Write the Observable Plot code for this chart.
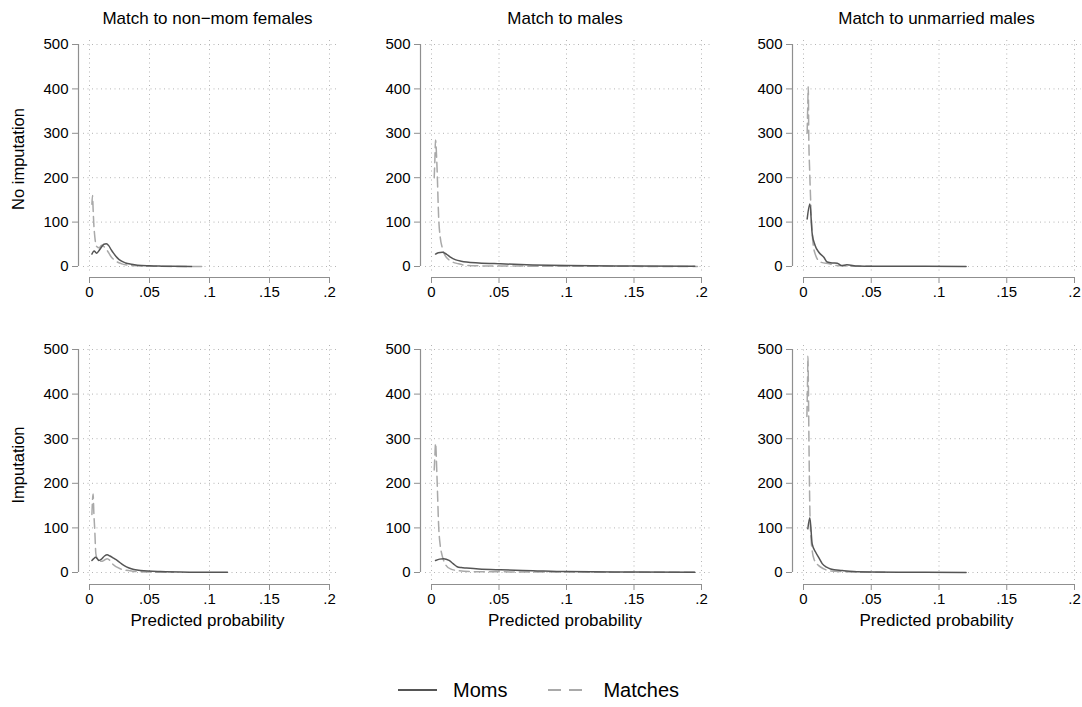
<!DOCTYPE html>
<html>
<head>
<meta charset="utf-8">
<script src="https://cdn.jsdelivr.net/npm/d3@7"></script>
<script src="https://cdn.jsdelivr.net/npm/@observablehq/plot@0.6"></script>
<style>
  html, body { margin: 0; padding: 0; background: #fff; }
  #root { position: relative; width: 1082px; height: 707px; font-family: "Liberation Sans", Arial, Helvetica, sans-serif; color: #000; }
  .abs { position: absolute; white-space: nowrap; line-height: 1; }
  .panel { position: absolute; }
</style>
</head>
<body>
<div id="root"></div>
<script>
// ---------------- data ----------------
const xTicks = [0, 0.05, 0.1, 0.15, 0.2];
const xTickLabels = ["0", ".05", ".1", ".15", ".2"];
const yTicks = [0, 100, 200, 300, 400, 500];
const colTitles = ["Match to non\u2212mom females", "Match to males", "Match to unmarried males"];
const rowTitles = ["No imputation", "Imputation"];
const seriesNames = ["Moms", "Matches"];
const xAxisTitle = "Predicted probability";

// Row 1 (No imputation), col 1 (non-mom females)
const p11MomsX = [0.002,0.003,0.004,0.005,0.006,0.008,0.010,0.012,0.014,0.016,0.018,0.020,0.023,0.026,0.030,0.035,0.040,0.050,0.060,0.070,0.085];
const p11MomsY = [28,33,35,32,30,36,44,50,51,47,38,30,20,13,8,5,3,1.5,0.8,0.4,0.2];
const p11MatchX = [0.002,0.0025,0.003,0.0035,0.0045,0.006,0.008,0.010,0.012,0.015,0.018,0.022,0.027,0.035,0.050,0.070,0.095];
const p11MatchY = [140,160,130,100,65,45,42,48,45,35,22,12,6,2,0.5,0.2,0];
// Row 1, col 2 (males)
const p12MomsX = [0.003,0.005,0.008,0.011,0.014,0.018,0.022,0.026,0.035,0.051,0.075,0.1,0.15,0.195];
const p12MomsY = [28,31,32,28,21,15,12,10,8,6,3.5,2,1,0.4];
const p12MatchX = [0.002,0.0025,0.003,0.004,0.0054,0.0065,0.0079,0.010,0.014,0.020,0.026,0.035,0.05,0.075,0.1,0.15,0.197];
const p12MatchY = [200,240,285,230,104,65,43,25,13,6,2.5,1.5,1,0.8,0.5,0.3,0.2];
// Row 1, col 3 (unmarried males)
const p13MomsX = [0.0027,0.0047,0.0064,0.0085,0.0113,0.015,0.0175,0.021,0.025,0.028,0.032,0.04,0.05,0.07,0.09,0.12];
const p13MomsY = [107,141,74,48,32,21,10,8,7.5,2,4,1,0.6,0.8,0.3,0.2];
const p13MatchX = [0.0027,0.0032,0.0035,0.0039,0.0045,0.0052,0.006,0.0071,0.009,0.0125,0.019,0.025,0.035,0.05];
const p13MatchY = [300,370,405,290,220,156,95,51,25,10,6,2,0.8,0.3];
// Row 2 (Imputation), col 1
const p21MomsX = [0.002,0.0035,0.005,0.0065,0.0078,0.010,0.0125,0.0147,0.017,0.020,0.023,0.0286,0.033,0.0425,0.059,0.087,0.115];
const p21MomsY = [27,31,34,31,27,30,37,40,37,32,27,16,10,4.5,2,0.7,0.3];
const p21MatchX = [0.002,0.003,0.0036,0.0044,0.0053,0.0065,0.0078,0.010,0.0125,0.0147,0.017,0.019,0.026,0.036,0.05,0.07];
const p21MatchY = [130,176,135,94,42,30,27,25,28,31,27,20,8,3,1,0.3];
// Row 2, col 2
const p22MomsX = [0.003,0.006,0.009,0.013,0.016,0.019,0.022,0.026,0.035,0.051,0.075,0.1,0.15,0.195];
const p22MomsY = [27,30,31,27,20,13,11,10,8,6,4,2,1,0.3];
const p22MatchX = [0.002,0.0025,0.003,0.004,0.0054,0.0065,0.0079,0.010,0.014,0.02,0.03,0.05,0.1,0.15,0.197];
const p22MatchY = [230,260,290,220,98,60,38,20,8,4,2,1.5,1,0.5,0.3];
// Row 2, col 3
const p23MomsX = [0.0032,0.0047,0.0064,0.0089,0.0115,0.0138,0.017,0.020,0.0286,0.037,0.05,0.07,0.09,0.12];
const p23MomsY = [98,123,64,46,32,20,12,8,4.5,2,1,0.6,0.4,0.2];
const p23MatchX = [0.0025,0.003,0.0033,0.0036,0.004,0.0047,0.0055,0.0064,0.008,0.011,0.015,0.019,0.028,0.04,0.06];
const p23MatchY = [350,430,485,420,300,139,80,49,28,16,8,4,2,0.8,0.3];

// ---------------- styles / layout ----------------
const FONT = '"Liberation Sans", Arial, Helvetica, sans-serif';
const momsColor = "#555555";
const matchColor = "#a9a9a9";
const matchDash = "10,5";
const axisColor = "#8f8f8f";
const gridColor = "#b5b5b5";
const tickFont = 15;

const cols = [
  {left: 30,  width: 310, mL: 48, mR: 3, iL: 11, iR: 8},
  {left: 370, width: 345, mL: 50, mR: 5, iL: 11, iR: 9},
  {left: 742, width: 340, mL: 50, mR: 1, iL: 11, iR: 7}
];
const rows = [
  {top: 30,  height: 275, mT: 10, mB: 28, iT: 4, iB: 11},
  {top: 335, height: 275, mT: 10, mB: 26, iT: 4, iB: 12}
];

const panels = [
  [[p11MomsX,p11MomsY,p11MatchX,p11MatchY],[p12MomsX,p12MomsY,p12MatchX,p12MatchY],[p13MomsX,p13MomsY,p13MatchX,p13MatchY]],
  [[p21MomsX,p21MomsY,p21MatchX,p21MatchY],[p22MomsX,p22MomsY,p22MatchX,p22MatchY],[p23MomsX,p23MomsY,p23MatchX,p23MatchY]]
];

const root = document.getElementById("root");
function addText(txt, css) {
  const d = document.createElement("div");
  d.className = "abs";
  d.textContent = txt;
  Object.assign(d.style, css);
  root.appendChild(d);
  return d;
}

const zip = (xs, ys) => xs.map((x, i) => ({x, y: ys[i]}));

rows.forEach((r, ri) => {
  cols.forEach((c, ci) => {
    const [mx, my, tx, ty] = panels[ri][ci];
    const moms = zip(mx, my);
    const matches = zip(tx, ty);
    const chart = Plot.plot({
      width: c.width, height: r.height,
      marginLeft: c.mL, marginRight: c.mR, marginTop: r.mT, marginBottom: r.mB,
      x: {domain: [xTicks[0], xTicks[xTicks.length-1]], insetLeft: c.iL, insetRight: c.iR},
      y: {domain: [yTicks[0], yTicks[yTicks.length-1]], insetTop: r.iT, insetBottom: r.iB},
      style: {fontFamily: FONT, fontSize: tickFont + "px", color: "#000", background: "transparent", overflow: "visible"},
      marks: [
        Plot.gridX(xTicks, {stroke: gridColor, strokeOpacity: 1, strokeDasharray: "1,3.5", insetBottom: 4}),
        Plot.gridY(yTicks, {stroke: gridColor, strokeOpacity: 1, strokeDasharray: "1,3.5", insetLeft: 5}),
        Plot.ruleY([yTicks[0]], {x1: () => xTicks[0], x2: () => xTicks[xTicks.length-1], dy: r.iB, stroke: axisColor, strokeWidth: 1.2}),
        Plot.ruleX([xTicks[0]], {y1: () => yTicks[0], y2: () => yTicks[yTicks.length-1], dx: -c.iL, stroke: axisColor, strokeWidth: 1.2}),
        Plot.axisX(xTicks, {tickSize: 6, tickPadding: 3, stroke: axisColor, fill: "#000", fontSize: tickFont,
          tickFormat: d => xTickLabels[xTicks.indexOf(d)], label: null}),
        Plot.axisY(yTicks, {tickSize: 6, tickPadding: 4, stroke: axisColor, fill: "#000", fontSize: tickFont,
          tickFormat: d => String(d), label: null}),
        Plot.line(matches, {x: "x", y: "y", stroke: matchColor, strokeWidth: 1.5, strokeDasharray: matchDash, curve: "monotone-x"}),
        Plot.line(moms, {x: "x", y: "y", stroke: momsColor, strokeWidth: 1.5, curve: "monotone-x"})
      ]
    });
    chart.classList.add("panel");
    chart.style.left = c.left + "px";
    chart.style.top = r.top + "px";
    root.appendChild(chart);

    const plotLeft = c.left + c.mL;
    const plotRight = c.left + c.width - c.mR;
    const center = (plotLeft + plotRight) / 2;
    if (ri === 0) {
      addText(colTitles[ci], {left: center + "px", top: "10px", transform: "translateX(-50%)", fontSize: "17px"});
    }
    if (ri === rows.length - 1) {
      addText(xAxisTitle, {left: center + "px", top: "612px", transform: "translateX(-50%)", fontSize: "17px"});
    }
  });
  const rc = r.top + r.mT + (r.height - r.mT - r.mB) / 2;
  addText(rowTitles[ri], {left: "18px", top: rc + "px", transform: "translate(-50%,-50%) rotate(-90deg)", fontSize: "16.5px"});
});

// legend
const legend = document.createElement("div");
legend.className = "abs";
Object.assign(legend.style, {left: "398px", top: "679px", display: "flex", alignItems: "center", fontSize: "20px"});
const legendItems = [[seriesNames[0], momsColor, null], [seriesNames[1], matchColor, matchDash]];
legendItems.forEach(([name, color, dash], i) => {
  const ns = "http://www.w3.org/2000/svg";
  const svg = document.createElementNS(ns, "svg");
  svg.setAttribute("width", 39); svg.setAttribute("height", 22);
  const ln = document.createElementNS(ns, "line");
  ln.setAttribute("x1", 0); ln.setAttribute("x2", 39); ln.setAttribute("y1", 11); ln.setAttribute("y2", 11);
  ln.setAttribute("stroke", color); ln.setAttribute("stroke-width", 2);
  if (dash) ln.setAttribute("stroke-dasharray", "13,8");
  svg.appendChild(ln);
  svg.style.marginRight = "16px";
  if (i > 0) svg.style.marginLeft = "41px";
  legend.appendChild(svg);
  const t = document.createElement("span");
  t.textContent = name;
  legend.appendChild(t);
});
root.appendChild(legend);
</script>
</body>
</html>
